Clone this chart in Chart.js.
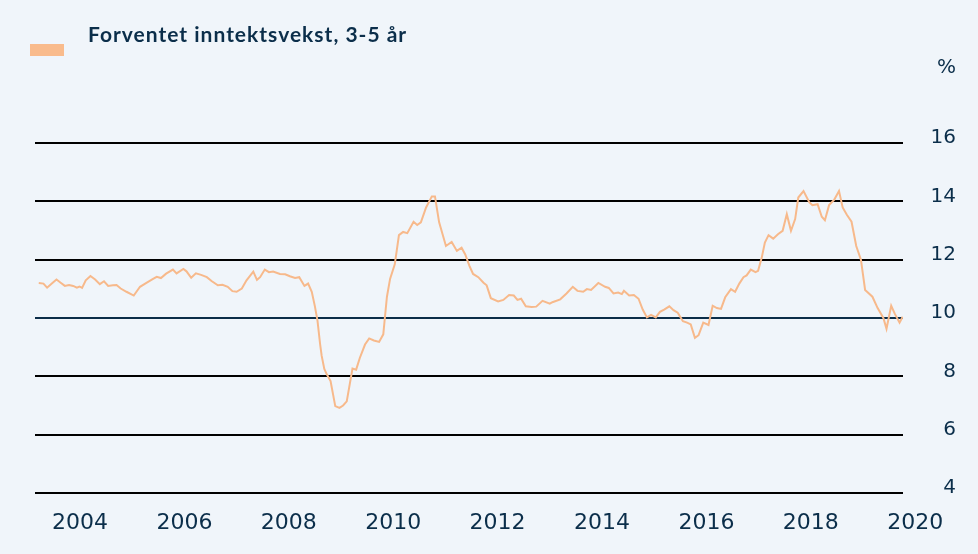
<!DOCTYPE html>
<html>
<head>
<meta charset="utf-8">
<script src="https://cdn.jsdelivr.net/npm/chart.js@4.4.1/dist/chart.umd.min.js"></script>
<style>
  html, body { margin: 0; padding: 0; background: #f0f5fa; }
  #wrap { position: relative; width: 978px; height: 554px; }
  #chart { position: absolute; left: 0; top: 0; }
  #swatch { position: absolute; left: 30px; top: 44px; width: 34px; height: 12px; background: #f9bb8c; }
  #title { position: absolute; left: 88px; top: 22px; font: bold 21px Lato, sans-serif; letter-spacing: 1px; line-height: 24px; color: #0b2e4a; white-space: nowrap; }
  #unit { position: absolute; left: 937px; top: 54px; font: 20px "DejaVu Sans", sans-serif; line-height: 24px; color: #0b2e4a; }
</style>
</head>
<body>
<div id="wrap">
  <canvas id="chart" width="978" height="554"></canvas>
  <div id="swatch"></div>
  <div id="title">Forventet inntektsvekst, 3-5 år</div>
  <div id="unit">%</div>
</div>
<script>
// monthly-ish readings, decimal year
const years = [2003.21,2003.30,2003.37,2003.46,2003.55,2003.63,2003.71,2003.79,2003.87,2003.94,
  2003.99,2004.04,2004.11,2004.20,2004.29,2004.38,2004.46,2004.54,2004.63,2004.70,
  2004.78,2004.89,2005.03,2005.15,2005.28,2005.40,2005.47,2005.55,2005.65,2005.78,
  2005.85,2005.98,2006.04,2006.13,2006.22,2006.32,2006.43,2006.52,2006.64,2006.73,
  2006.83,2006.92,2007.00,2007.10,2007.19,2007.32,2007.39,2007.45,2007.54,2007.62,
  2007.70,2007.83,2007.93,2008.02,2008.12,2008.20,2008.30,2008.37,2008.44,2008.50,
  2008.55,2008.60,2008.63,2008.68,2008.73,2008.80,2008.89,2008.97,2009.04,2009.11,
  2009.22,2009.29,2009.36,2009.46,2009.54,2009.63,2009.73,2009.81,2009.84,2009.88,
  2009.94,2010.03,2010.11,2010.19,2010.27,2010.39,2010.46,2010.53,2010.63,2010.74,
  2010.80,2010.88,2011.01,2011.12,2011.22,2011.31,2011.38,2011.46,2011.53,2011.63,
  2011.73,2011.79,2011.87,2012.01,2012.11,2012.22,2012.31,2012.38,2012.45,2012.54,
  2012.65,2012.74,2012.86,2013.00,2013.05,2013.20,2013.32,2013.44,2013.53,2013.64,
  2013.71,2013.79,2013.93,2014.06,2014.13,2014.22,2014.31,2014.38,2014.42,2014.52,
  2014.61,2014.70,2014.78,2014.86,2014.94,2015.03,2015.11,2015.19,2015.29,2015.37,
  2015.45,2015.55,2015.63,2015.70,2015.78,2015.85,2015.94,2016.04,2016.12,2016.20,
  2016.28,2016.36,2016.47,2016.55,2016.63,2016.71,2016.77,2016.85,2016.94,2016.99,
  2017.06,2017.12,2017.19,2017.28,2017.37,2017.46,2017.54,2017.62,2017.70,2017.76,
  2017.86,2017.97,2018.03,2018.13,2018.21,2018.27,2018.35,2018.45,2018.54,2018.61,
  2018.69,2018.78,2018.87,2018.96,2019.04,2019.18,2019.28,2019.39,2019.45,2019.54,
  2019.61,2019.70,2019.76];

const incomeGrowth = [11.2,11.18,11.04,11.18,11.32,11.21,11.1,11.13,11.1,11.04,
  11.08,11.03,11.29,11.44,11.32,11.16,11.26,11.1,11.12,11.13,
  11.01,10.9,10.77,11.07,11.21,11.34,11.41,11.37,11.52,11.66,
  11.53,11.68,11.6,11.38,11.53,11.48,11.4,11.27,11.12,11.14,
  11.07,10.92,10.9,11.01,11.29,11.59,11.31,11.4,11.66,11.57,
  11.59,11.51,11.5,11.43,11.37,11.4,11.1,11.18,10.9,10.4,
  9.9,9.1,8.7,8.25,8.06,7.84,6.98,6.92,7.0,7.14,
  8.27,8.23,8.63,9.09,9.3,9.23,9.18,9.44,10.0,10.73,
  11.34,11.84,12.84,12.95,12.91,13.3,13.19,13.28,13.79,14.17,
  14.17,13.28,12.47,12.61,12.3,12.41,12.18,11.79,11.51,11.4,
  11.21,11.12,10.68,10.57,10.62,10.79,10.77,10.62,10.66,10.4,
  10.38,10.39,10.59,10.49,10.54,10.64,10.84,11.07,10.93,10.9,
  10.99,10.96,11.2,11.07,11.03,10.84,10.87,10.82,10.93,10.77,
  10.79,10.66,10.29,10.02,10.11,10.02,10.21,10.29,10.4,10.27,
  10.18,9.89,9.84,9.78,9.32,9.41,9.84,9.76,10.42,10.34,
  10.31,10.71,10.99,10.9,11.18,11.4,11.46,11.66,11.57,11.62,
  12.07,12.59,12.84,12.72,12.87,12.99,13.56,12.99,13.39,14.13,
  14.35,13.97,13.87,13.9,13.47,13.35,13.87,14.06,14.35,13.79,
  13.54,13.3,12.47,12.0,10.96,10.73,10.34,10.0,9.63,10.42,
  10.14,9.84,10.04];

const xTicks = [2004,2006,2008,2010,2012,2014,2016,2018,2020];
const yTicks = [4,6,8,10,12,14,16];

const INK = '#0b2e4a';
const points = years.map((y, i) => ({ x: y, y: incomeGrowth[i] }));

new Chart(document.getElementById('chart'), {
  type: 'line',
  data: {
    datasets: [{
      label: 'Forventet inntektsvekst, 3-5 år',
      data: points,
      borderColor: '#f7b98b',
      borderWidth: 2,
      pointRadius: 0,
      tension: 0,
      fill: false
    }]
  },
  options: {
    responsive: false,
    animation: false,
    layout: { padding: { top: 143, left: 35, right: 22, bottom: 0 } },
    plugins: { legend: { display: false }, tooltip: { enabled: false } },
    scales: {
      x: {
        type: 'linear',
        min: 2003.138,
        max: 2019.766,
        grid: { display: false },
        border: { display: false },
        afterBuildTicks: s => { s.ticks = xTicks.map(v => ({ value: v })); },
        afterFit: s => { s.height = 61; },
        ticks: {
          autoSkip: false,
          maxRotation: 0,
          padding: 9,
          color: INK,
          font: { family: 'DejaVu Sans', size: 22 },
          callback: v => String(v)
        }
      },
      y: {
        position: 'right',
        min: 4,
        max: 16,
        border: { display: false },
        afterBuildTicks: s => { s.ticks = yTicks.map(v => ({ value: v })); },
        afterFit: s => { s.width = 53; },
        grid: {
          drawTicks: false,
          lineWidth: 2,
          color: c => c.tick && c.tick.value === 10 ? '#0b2d48' : '#000000'
        },
        ticks: {
          padding: 10,
          crossAlign: 'far',
          labelOffset: -5,
          color: INK,
          font: { family: 'DejaVu Sans', size: 20 },
          callback: v => String(v)
        }
      }
    }
  }
});
</script>
</body>
</html>
